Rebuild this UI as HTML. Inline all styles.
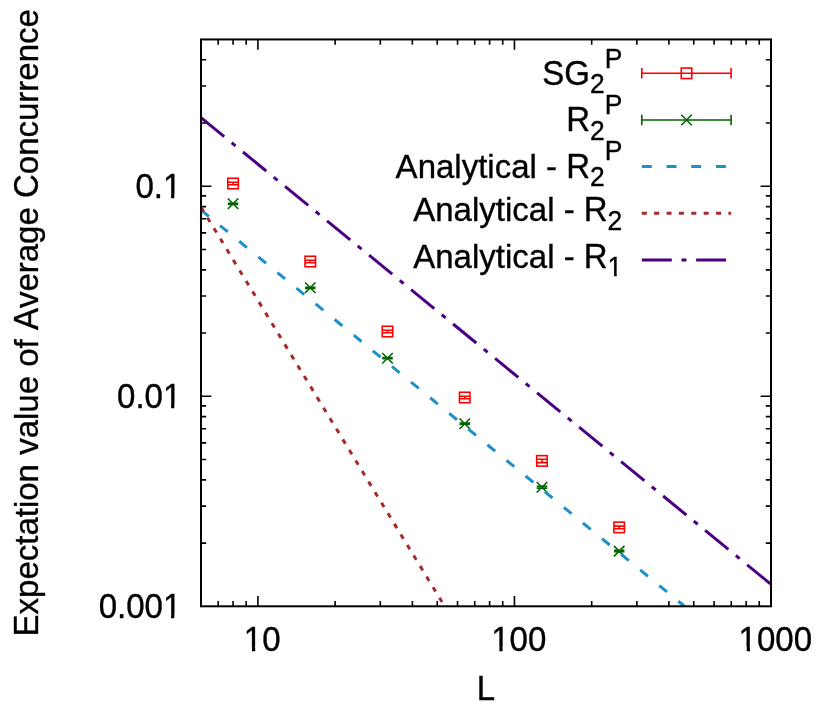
<!DOCTYPE html>
<html><head><meta charset="utf-8"><title>plot</title>
<style>html,body{margin:0;padding:0;background:#fff;}svg{display:block;}svg{will-change:transform;}text{font-family:"Liberation Sans",sans-serif;fill:#000;stroke:#000;stroke-width:0.35px;font-kerning:none;white-space:pre;}</style></head><body>
<svg width="830" height="712" viewBox="0 0 830 712">
<rect width="830" height="712" fill="#fff"/>
<path d="M218.17 606.3 v-5.2 M218.17 39.45 v5.2 M233.05 606.3 v-5.2 M233.05 39.45 v5.2 M246.18 606.3 v-5.2 M246.18 39.45 v5.2 M257.91 606.3 v-10.4 M257.91 39.45 v10.4 M335.14 606.3 v-5.2 M335.14 39.45 v5.2 M380.32 606.3 v-5.2 M380.32 39.45 v5.2 M412.37 606.3 v-5.2 M412.37 39.45 v5.2 M437.23 606.3 v-5.2 M437.23 39.45 v5.2 M457.54 606.3 v-5.2 M457.54 39.45 v5.2 M474.72 606.3 v-5.2 M474.72 39.45 v5.2 M489.60 606.3 v-5.2 M489.60 39.45 v5.2 M502.72 606.3 v-5.2 M502.72 39.45 v5.2 M514.46 606.3 v-10.4 M514.46 39.45 v10.4 M591.68 606.3 v-5.2 M591.68 39.45 v5.2 M636.86 606.3 v-5.2 M636.86 39.45 v5.2 M668.91 606.3 v-5.2 M668.91 39.45 v5.2 M693.77 606.3 v-5.2 M693.77 39.45 v5.2 M714.09 606.3 v-5.2 M714.09 39.45 v5.2 M731.26 606.3 v-5.2 M731.26 39.45 v5.2 M746.14 606.3 v-5.2 M746.14 39.45 v5.2 M759.26 606.3 v-5.2 M759.26 39.45 v5.2 M201.0 543.08 h5.2 M771.0 543.08 h-5.2 M201.0 506.09 h5.2 M771.0 506.09 h-5.2 M201.0 479.85 h5.2 M771.0 479.85 h-5.2 M201.0 459.50 h5.2 M771.0 459.50 h-5.2 M201.0 442.87 h5.2 M771.0 442.87 h-5.2 M201.0 428.81 h5.2 M771.0 428.81 h-5.2 M201.0 416.63 h5.2 M771.0 416.63 h-5.2 M201.0 405.89 h5.2 M771.0 405.89 h-5.2 M201.0 396.28 h10.4 M771.0 396.28 h-10.4 M201.0 333.05 h5.2 M771.0 333.05 h-5.2 M201.0 296.07 h5.2 M771.0 296.07 h-5.2 M201.0 269.83 h5.2 M771.0 269.83 h-5.2 M201.0 249.47 h5.2 M771.0 249.47 h-5.2 M201.0 232.84 h5.2 M771.0 232.84 h-5.2 M201.0 218.78 h5.2 M771.0 218.78 h-5.2 M201.0 206.60 h5.2 M771.0 206.60 h-5.2 M201.0 195.86 h5.2 M771.0 195.86 h-5.2 M201.0 186.25 h10.4 M771.0 186.25 h-10.4 M201.0 123.03 h5.2 M771.0 123.03 h-5.2 M201.0 86.04 h5.2 M771.0 86.04 h-5.2 M201.0 59.80 h5.2 M771.0 59.80 h-5.2" stroke="#000" stroke-width="1.6" fill="none"/>
<text transform="translate(181.30 198.25) scale(1 1.04)" font-size="33" text-anchor="end">0.1</text>
<text transform="translate(181.30 408.28) scale(1 1.04)" font-size="33" text-anchor="end">0.01</text>
<text transform="translate(181.30 618.30) scale(1 1.04)" font-size="33" text-anchor="end">0.001</text>
<text transform="translate(262.21 650.50) scale(1 1.04)" font-size="33" text-anchor="middle">10</text>
<text transform="translate(518.76 650.50) scale(1 1.04)" font-size="33" text-anchor="middle">100</text>
<text transform="translate(775.30 650.50) scale(1 1.04)" font-size="33" text-anchor="middle">1000</text>
<text transform="translate(485.80 699.80) scale(1 1.04)" font-size="33" text-anchor="middle">L</text>
<text transform="translate(37.65 636.49) rotate(-90) scale(1 1.04)" font-size="33">E</text>
<text transform="translate(37.65 614.47) rotate(-90) scale(1 1.0)" font-size="33">xpectation value of </text>
<text transform="translate(37.65 330.12) rotate(-90) scale(1 1.04)" font-size="33">A</text>
<text transform="translate(37.65 308.11) rotate(-90) scale(1 1.0)" font-size="33">verage </text>
<text transform="translate(37.65 198.04) rotate(-90) scale(1 1.04)" font-size="33">C</text>
<text transform="translate(37.65 174.21) rotate(-90) scale(1 1.0)" font-size="33">oncurrence</text>
<rect x="163.91" y="194.59" width="7.16" height="6.16" fill="#fff"/><rect x="174.33" y="194.59" width="7.32" height="6.16" fill="#fff"/>
<rect x="163.91" y="404.61" width="7.16" height="6.16" fill="#fff"/><rect x="174.33" y="404.61" width="7.32" height="6.16" fill="#fff"/>
<rect x="163.91" y="614.64" width="7.16" height="6.16" fill="#fff"/><rect x="174.33" y="614.64" width="7.32" height="6.16" fill="#fff"/>
<rect x="244.83" y="646.84" width="7.16" height="6.16" fill="#fff"/><rect x="255.25" y="646.84" width="7.32" height="6.16" fill="#fff"/>
<rect x="492.19" y="646.84" width="7.16" height="6.16" fill="#fff"/><rect x="502.61" y="646.84" width="7.32" height="6.16" fill="#fff"/>
<rect x="739.56" y="646.84" width="7.16" height="6.16" fill="#fff"/><rect x="749.98" y="646.84" width="7.32" height="6.16" fill="#fff"/>
<path d="M233.05 182.30 V184.70 M227.80 182.30 h10.5 M227.80 184.70 h10.5" stroke="#ff0000" stroke-width="1.6" fill="none"/>
<rect x="227.80" y="178.25" width="10.5" height="10.5" stroke="#ff0000" stroke-width="1.6" fill="none"/>
<path d="M310.28 260.30 V262.70 M305.03 260.30 h10.5 M305.03 262.70 h10.5" stroke="#ff0000" stroke-width="1.6" fill="none"/>
<rect x="305.03" y="256.25" width="10.5" height="10.5" stroke="#ff0000" stroke-width="1.6" fill="none"/>
<path d="M387.51 330.30 V332.70 M382.26 330.30 h10.5 M382.26 332.70 h10.5" stroke="#ff0000" stroke-width="1.6" fill="none"/>
<rect x="382.26" y="326.25" width="10.5" height="10.5" stroke="#ff0000" stroke-width="1.6" fill="none"/>
<path d="M464.73 396.30 V398.70 M459.48 396.30 h10.5 M459.48 398.70 h10.5" stroke="#ff0000" stroke-width="1.6" fill="none"/>
<rect x="459.48" y="392.25" width="10.5" height="10.5" stroke="#ff0000" stroke-width="1.6" fill="none"/>
<path d="M541.96 459.20 V462.60 M536.71 459.20 h10.5 M536.71 462.60 h10.5" stroke="#ff0000" stroke-width="1.6" fill="none"/>
<rect x="536.71" y="455.65" width="10.5" height="10.5" stroke="#ff0000" stroke-width="1.6" fill="none"/>
<path d="M619.19 526.10 V528.70 M613.94 526.10 h10.5 M613.94 528.70 h10.5" stroke="#ff0000" stroke-width="1.6" fill="none"/>
<rect x="613.94" y="522.15" width="10.5" height="10.5" stroke="#ff0000" stroke-width="1.6" fill="none"/>
<path d="M233.05 203.20 V204.40 M227.80 203.20 h10.5 M227.80 204.40 h10.5" stroke="#006400" stroke-width="1.6" fill="none"/>
<path d="M227.80 198.55 l10.5 10.5 M227.80 209.05 l10.5 -10.5" stroke="#006400" stroke-width="1.6" fill="none"/>
<path d="M310.28 287.20 V288.40 M305.03 287.20 h10.5 M305.03 288.40 h10.5" stroke="#006400" stroke-width="1.6" fill="none"/>
<path d="M305.03 282.55 l10.5 10.5 M305.03 293.05 l10.5 -10.5" stroke="#006400" stroke-width="1.6" fill="none"/>
<path d="M387.51 357.60 V358.80 M382.26 357.60 h10.5 M382.26 358.80 h10.5" stroke="#006400" stroke-width="1.6" fill="none"/>
<path d="M382.26 352.95 l10.5 10.5 M382.26 363.45 l10.5 -10.5" stroke="#006400" stroke-width="1.6" fill="none"/>
<path d="M464.73 423.10 V424.30 M459.48 423.10 h10.5 M459.48 424.30 h10.5" stroke="#006400" stroke-width="1.6" fill="none"/>
<path d="M459.48 418.45 l10.5 10.5 M459.48 428.95 l10.5 -10.5" stroke="#006400" stroke-width="1.6" fill="none"/>
<path d="M541.96 486.30 V488.10 M536.71 486.30 h10.5 M536.71 488.10 h10.5" stroke="#006400" stroke-width="1.6" fill="none"/>
<path d="M536.71 481.95 l10.5 10.5 M536.71 492.45 l10.5 -10.5" stroke="#006400" stroke-width="1.6" fill="none"/>
<path d="M619.19 550.40 V551.80 M613.94 550.40 h10.5 M613.94 551.80 h10.5" stroke="#006400" stroke-width="1.6" fill="none"/>
<path d="M613.94 545.85 l10.5 10.5 M613.94 556.35 l10.5 -10.5" stroke="#006400" stroke-width="1.6" fill="none"/>
<path d="M201 209.95 L684.2 606" stroke="#1e90c8" stroke-width="3" stroke-dasharray="10 14.69" fill="none"/>
<path d="M201 207.1 L444.5 606" stroke="#a52a2a" stroke-width="3" stroke-dasharray="5 7.37" fill="none"/>
<path d="M201 117.6 L771 584.3" stroke="#4b0082" stroke-width="3" stroke-dasharray="30 9.65 5 9.65" fill="none"/>
<rect x="201.0" y="39.45" width="570.0" height="566.8499999999999" stroke="#000" stroke-width="2" fill="none"/>
<text transform="translate(590.01 84.80) scale(1 1.04)" font-size="33" text-anchor="end">SG</text><text transform="translate(590.01 93.40) scale(1 1.04)" font-size="26.4" text-anchor="start">2</text><text transform="translate(604.69 67.60) scale(1 1.04)" font-size="26.4" text-anchor="start">P</text>
<text transform="translate(590.01 131.20) scale(1 1.04)" font-size="33" text-anchor="end">R</text><text transform="translate(590.01 139.80) scale(1 1.04)" font-size="26.4" text-anchor="start">2</text><text transform="translate(604.69 114.00) scale(1 1.04)" font-size="26.4" text-anchor="start">P</text>
<text transform="translate(566.18 177.60) scale(1 1.0)" font-size="33" text-anchor="end">Analytical - </text><text transform="translate(590.01 177.60) scale(1 1.04)" font-size="33" text-anchor="end">R</text><text transform="translate(590.01 186.20) scale(1 1.04)" font-size="26.4" text-anchor="start">2</text><text transform="translate(604.69 160.40) scale(1 1.04)" font-size="26.4" text-anchor="start">P</text>
<text transform="translate(583.79 221.10) scale(1 1.0)" font-size="33" text-anchor="end">Analytical - </text><text transform="translate(607.62 221.10) scale(1 1.04)" font-size="33" text-anchor="end">R</text><text transform="translate(607.62 229.70) scale(1 1.04)" font-size="26.4" text-anchor="start">2</text>
<text transform="translate(583.79 267.60) scale(1 1.0)" font-size="33" text-anchor="end">Analytical - </text><text transform="translate(607.62 267.60) scale(1 1.04)" font-size="33" text-anchor="end">R</text><text transform="translate(607.62 276.20) scale(1 1.04)" font-size="26.4" text-anchor="start">1</text>
<rect x="608.39" y="273.05" width="5.70" height="5.65" fill="#fff"/><rect x="616.76" y="273.05" width="5.85" height="5.65" fill="#fff"/>
<path d="M641.8 73.3 H731.1 M641.8 68.1 v10.4 M731.1 68.1 v10.4" stroke="#ff0000" stroke-width="1.6" fill="none"/>
<path d="M641.8 120.0 H731.1 M641.8 114.8 v10.4 M731.1 114.8 v10.4" stroke="#006400" stroke-width="1.6" fill="none"/>
<rect x="681.25" y="68.05" width="10.5" height="10.5" stroke="#ff0000" stroke-width="1.6" fill="none"/>
<path d="M681.25 114.75 l10.5 10.5 M681.25 125.25 l10.5 -10.5" stroke="#006400" stroke-width="1.6" fill="none"/>
<path d="M641.8 166.5 H731.1" stroke="#1e90c8" stroke-width="3" stroke-dasharray="10 14.69" fill="none"/>
<path d="M641.8 213.2 H731.1" stroke="#a52a2a" stroke-width="3" stroke-dasharray="5 7.37" fill="none"/>
<path d="M641.8 260.0 H731.1" stroke="#4b0082" stroke-width="3" stroke-dasharray="30 9.65 5 9.65" fill="none"/>
</svg></body></html>
